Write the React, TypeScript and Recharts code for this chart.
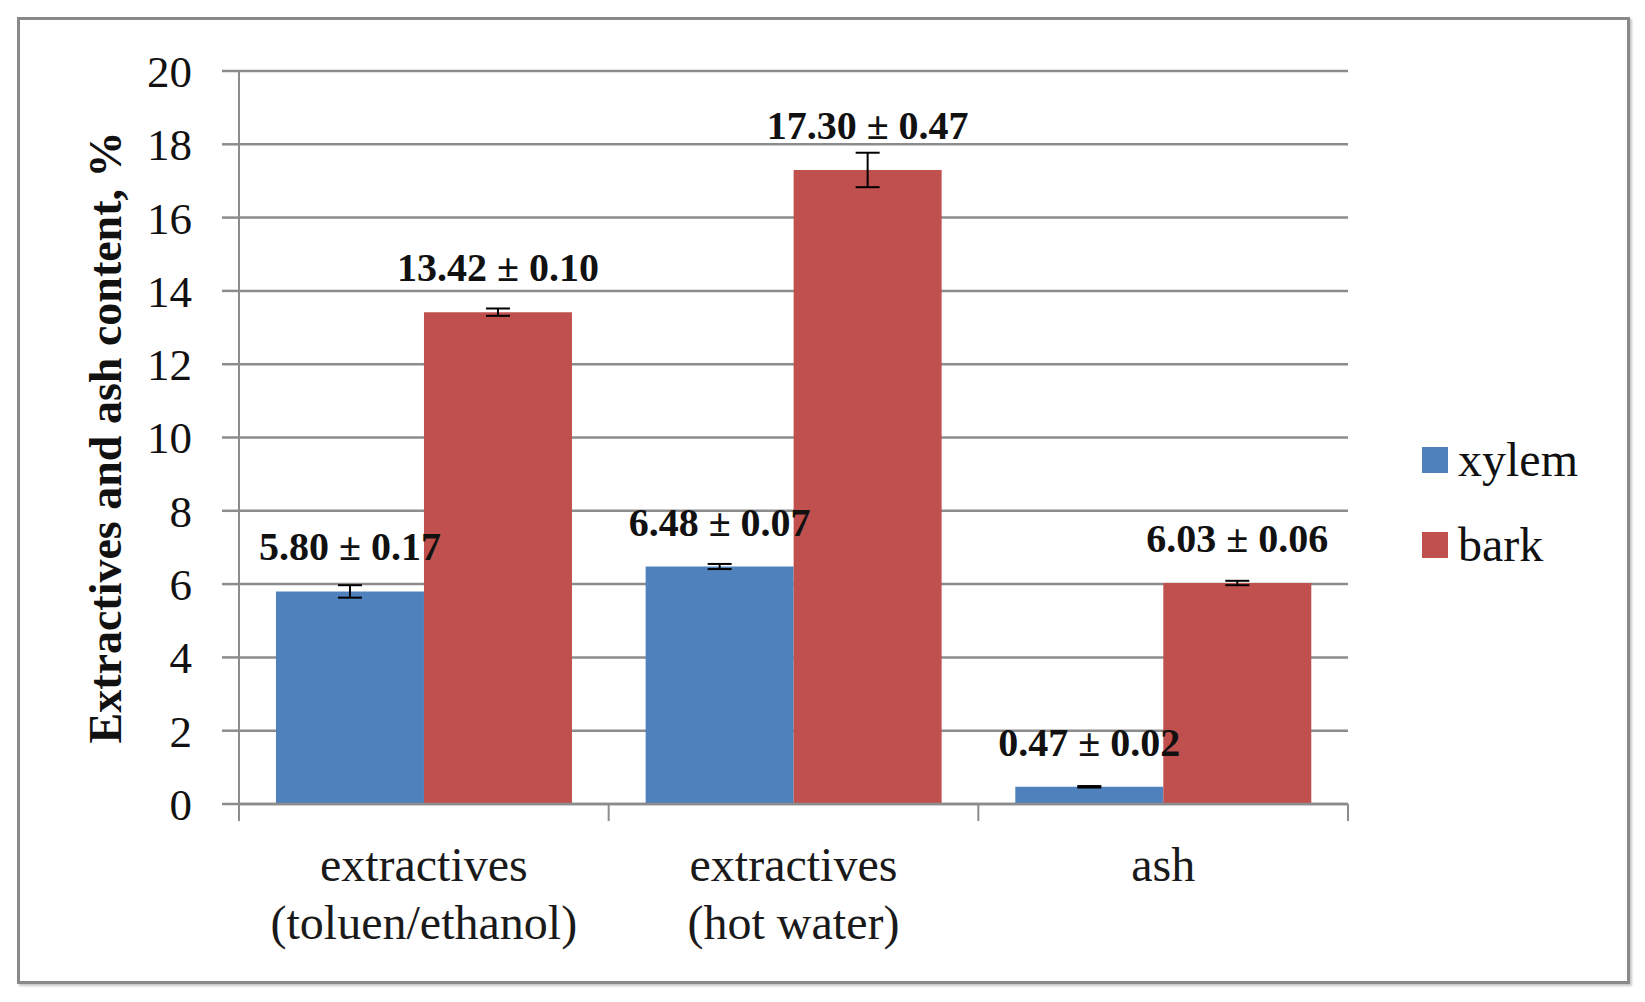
import { BarChart, Bar, XAxis, YAxis, CartesianGrid, ErrorBar, LabelList, Legend, Label } from 'recharts'

const categories = ['extractives\n(toluen/ethanol)', 'extractives\n(hot water)', 'ash']
const seriesNames = ['xylem', 'bark']
const xylem = [5.80, 6.48, 0.47]
const xylemErr = [0.17, 0.07, 0.02]
const bark = [13.42, 17.30, 6.03]
const barkErr = [0.10, 0.47, 0.06]
const yTicks = [0, 2, 4, 6, 8, 10, 12, 14, 16, 18, 20]

const data = categories.map((name, i) => ({
  name,
  xylem: xylem[i],
  xylemErr: xylemErr[i],
  bark: bark[i],
  barkErr: barkErr[i],
}))

const FONT = '"Liberation Serif", "Times New Roman", serif'
const GRID = '#8c8c8c'
const W = 1645
const H = 1002
const margin = { top: 71, right: 297, bottom: 0, left: 0 }

function CategoryTick(props: any) {
  const { x, y, payload, index } = props
  const half = payload.offset ?? 0
  const lines = String(payload.value).split('\n')
  return (
    <g>
      <line x1={x - half} x2={x - half} y1={y} y2={y + 17} stroke={GRID} strokeWidth={2} />
      {index === categories.length - 1 && (
        <line x1={x + half} x2={x + half} y1={y} y2={y + 17} stroke={GRID} strokeWidth={2} />
      )}
      <text textAnchor="middle" fontFamily={FONT} fontSize={48} fill="#1a1a1a">
        {lines.map((l, i) => (
          <tspan key={i} x={x} y={y + 77 + i * 58}>{l}</tspan>
        ))}
      </text>
    </g>
  )
}

const makeValueLabel = (errs: number[]) => (props: any) => {
  const { x, y, width, value, index } = props
  return (
    <text x={x + width / 2} y={y - 31} textAnchor="middle" fontFamily={FONT} fontSize={40} fontWeight="bold" fill="#111">
      {`${Number(value).toFixed(2)} ± ${errs[index].toFixed(2)}`}
    </text>
  )
}

function renderLegend(props: any) {
  const items = [...(props.payload || [])].sort(
    (a: any, b: any) => seriesNames.indexOf(a.value) - seriesNames.indexOf(b.value)
  )
  return (
    <div style={{ fontFamily: FONT, fontSize: 48, color: '#111' }}>
      {items.map((p: any) => (
        <div key={p.value} style={{ display: 'flex', alignItems: 'center', height: 85 }}>
          <span style={{ width: 26, height: 26, background: p.color, marginRight: 10, display: 'inline-block' }} />
          <span>{p.value}</span>
        </div>
      ))}
    </div>
  )
}

export default function App() {
  return (
    <div style={{ position: 'absolute', left: 0, top: 0, width: W, height: H, background: '#fff' }}>
      <div
        style={{
          position: 'absolute', left: 17, top: 17, width: 1607, height: 961,
          border: '3px solid #8a8a8a', boxShadow: '2px 2px 2px #c8c8c8',
        }}
      />
      <div style={{ position: 'absolute', left: 0, top: 0 }}>
        <BarChart width={W} height={H} data={data} margin={margin} barCategoryGap="10%" barGap={0}>
          <CartesianGrid vertical={false} stroke={GRID} strokeWidth={2.5} />
          <XAxis
            dataKey="name"
            height={198}
            tickSize={0}
            tickMargin={0}
            interval={0}
            axisLine={{ stroke: GRID, strokeWidth: 2.5 }}
            tick={<CategoryTick />}
          />
          <YAxis
            width={239}
            domain={[0, 20]}
            ticks={yTicks}
            tickSize={17}
            tickMargin={30}
            axisLine={{ stroke: GRID, strokeWidth: 2 }}
            tickLine={{ stroke: GRID, strokeWidth: 2.5 }}
            tick={{ fontFamily: FONT, fontSize: 45, fill: '#111' }}
          >
            <Label
              content={({ viewBox }: any) => {
                const cx = viewBox.x + 105
                const cy = viewBox.y + viewBox.height / 2
                return (
                  <text
                    x={cx} y={cy} transform={`rotate(-90, ${cx}, ${cy})`}
                    textAnchor="middle" dominantBaseline="central"
                    fontFamily={FONT} fontSize={46} fontWeight="bold" fill="#111"
                  >
                    Extractives and ash content, %
                  </text>
                )
              }}
            />
          </YAxis>
          <Legend
            layout="vertical"
            align="center"
            verticalAlign="middle"
            content={renderLegend}
            wrapperStyle={{ left: 1422, top: 417, width: 200 }}
          />
          <Bar dataKey="xylem" name="xylem" fill="#4F81BD" isAnimationActive={false}>
            <ErrorBar dataKey="xylemErr" direction="y" width={12} stroke="#000" strokeWidth={2} />
          </Bar>
          <Bar dataKey="bark" name="bark" fill="#C0504D" isAnimationActive={false}>
            <ErrorBar dataKey="barkErr" direction="y" width={12} stroke="#000" strokeWidth={2} />
          </Bar>
        </BarChart>
      </div>
      {/* same layout again on top, only to draw the value labels above both bars */}
      <div style={{ position: 'absolute', left: 0, top: 0, pointerEvents: 'none' }}>
        <BarChart width={W} height={H} data={data} margin={margin} barCategoryGap="10%" barGap={0}>
          <XAxis dataKey="name" height={198} tick={false} tickLine={false} axisLine={false} />
          <YAxis width={239} domain={[0, 20]} ticks={yTicks} tick={false} tickLine={false} axisLine={false} />
          <Bar dataKey="xylem" fill="none" fillOpacity={0} isAnimationActive={false}>
            <LabelList dataKey="xylem" content={makeValueLabel(xylemErr)} />
          </Bar>
          <Bar dataKey="bark" fill="none" fillOpacity={0} isAnimationActive={false}>
            <LabelList dataKey="bark" content={makeValueLabel(barkErr)} />
          </Bar>
        </BarChart>
      </div>
    </div>
  )
}
